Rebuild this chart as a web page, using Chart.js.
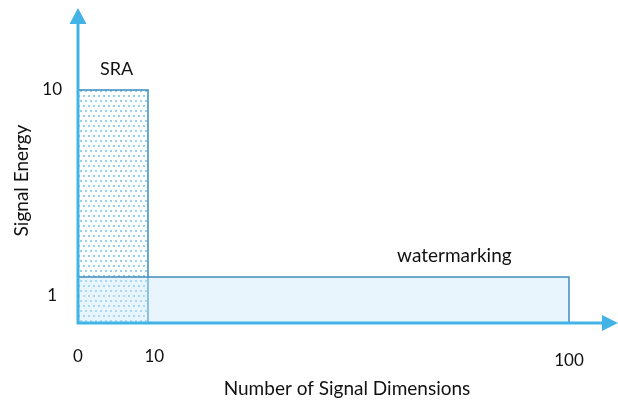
<!DOCTYPE html>
<html><head><meta charset="utf-8">
<script src="https://cdn.jsdelivr.net/npm/chart.js@4/dist/chart.umd.min.js"></script>
<style>html,body{margin:0;padding:0;background:#fff;}canvas{display:block;}</style>
</head><body>
<canvas id="c" width="618" height="400"></canvas>
<script>
// ---- data ----
const xTickValues = [0, 10, 100];
const xTickLabels = ['0', '10', '100'];
const yTickValues = [1, 10];
const yTickLabels = ['1', '10'];
const seriesNames = ['SRA', 'watermarking'];
const sraDims = [0, 10];      // number of signal dimensions range
const sraEnergy = [0, 10];    // signal energy range
const wmDims = [0, 100];
const wmEnergy = [0, 1];
const xTitle = 'Number of Signal Dimensions';
const yTitle = 'Signal Energy';

// ---- styles ----
const FONT = 'Lato';
const AXIS_COLOR = '#41B3E6';
const TEXT_COLOR = '#111111';

// piecewise (schematic, not-to-scale) linear scale
class PiecewiseScale extends Chart.LinearScale {
  _toDec(v) {
    const s = this.options.stops;
    let i = 1;
    while (i < s.length - 1 && v > s[i][0]) i++;
    const [v0, d0] = s[i - 1], [v1, d1] = s[i];
    return d0 + (v - v0) * (d1 - d0) / (v1 - v0);
  }
  getPixelForValue(value) {
    if (value === null || value === undefined || isNaN(value)) return NaN;
    return this.getPixelForDecimal(this._toDec(+value));
  }
  getValueForPixel(pixel) {
    const d = this.getDecimalForPixel(pixel);
    const s = this.options.stops;
    let i = 1;
    while (i < s.length - 1 && d > s[i][1]) i++;
    const [v0, d0] = s[i - 1], [v1, d1] = s[i];
    return v0 + (d - d0) * (v1 - v0) / (d1 - d0);
  }
}
PiecewiseScale.id = 'piecewise';
PiecewiseScale.defaults = Chart.LinearScale.defaults;
Chart.register(PiecewiseScale);

function rect(xr, yr) {
  return [
    {x: xr[0], y: yr[0]}, {x: xr[0], y: yr[1]}, {x: xr[1], y: yr[1]},
    {x: xr[1], y: yr[0]}, {x: xr[0], y: yr[0]}
  ];
}

function dotPattern() {
  const c = document.createElement('canvas');
  c.width = 10; c.height = 10;
  const g = c.getContext('2d');
  g.fillStyle = '#ffffff';
  g.fillRect(0, 0, 10, 10);
  g.fillStyle = '#96D1F1';
  [[0, 0], [5, 0], [3, 5], [8, 5]].forEach(([x, y]) => g.fillRect(x, y, 2, 2));
  return document.getElementById('c').getContext('2d').createPattern(c, 'repeat');
}

const axesPlugin = {
  id: 'axesArrows',
  afterDatasetsDraw(chart) {
    const {ctx, scales: {x, y}} = chart;
    const x0 = x.getPixelForValue(0), y0 = y.getPixelForValue(0);
    const topTip = 8, rightTip = chart.width;
    ctx.save();
    ctx.strokeStyle = AXIS_COLOR; ctx.fillStyle = AXIS_COLOR;
    ctx.lineWidth = 3; ctx.lineCap = 'butt';
    ctx.beginPath();
    ctx.moveTo(x0, y0 + 1.5); ctx.lineTo(x0, topTip + 14);
    ctx.moveTo(x0 - 1.5, y0); ctx.lineTo(rightTip - 14, y0);
    ctx.stroke();
    ctx.beginPath();
    ctx.moveTo(x0, topTip); ctx.lineTo(x0 - 8.5, topTip + 16); ctx.lineTo(x0 + 8.5, topTip + 16); ctx.closePath();
    ctx.moveTo(rightTip, y0); ctx.lineTo(rightTip - 16, y0 - 8); ctx.lineTo(rightTip - 16, y0 + 8); ctx.closePath();
    ctx.fill();
    // series labels
    ctx.fillStyle = TEXT_COLOR;
    ctx.textAlign = 'center'; ctx.textBaseline = 'alphabetic';
    ctx.font = '18px ' + FONT;
    ctx.fillText(seriesNames[0], x.getPixelForValue(5.5), y.getPixelForValue(sraEnergy[1]) - 15);
    ctx.font = '19px ' + FONT;
    ctx.fillText(seriesNames[1], x.getPixelForValue(75.5), y.getPixelForValue(wmEnergy[1]) - 15);
    ctx.restore();
  }
};

new Chart(document.getElementById('c'), {
  type: 'scatter',
  data: {
    datasets: [
      {
        label: seriesNames[0], data: rect(sraDims, sraEnergy), showLine: true,
        fill: 'shape', backgroundColor: dotPattern(), borderColor: '#3A8CBD',
        borderWidth: 1.5, pointRadius: 0, tension: 0, clip: false, order: 2
      },
      {
        label: seriesNames[1], data: rect(wmDims, wmEnergy), showLine: true,
        fill: 'shape', backgroundColor: 'rgba(200,230,248,0.4)', borderColor: '#3F8DBB',
        borderWidth: 1.5, pointRadius: 0, tension: 0, clip: false, order: 1
      }
    ]
  },
  options: {
    responsive: false, animation: false, devicePixelRatio: 1,
    layout: {padding: {top: 38, right: 2, left: 0, bottom: 0}},
    plugins: {legend: {display: false}, tooltip: {enabled: false}},
    scales: {
      x: {
        type: 'piecewise', min: 0, max: 110,
        stops: [[0, 0], [10, 0.1301], [100, 0.9126]],
        grid: {display: false, drawTicks: false, tickLength: 0},
        border: {display: false},
        afterBuildTicks: s => { s.ticks = xTickValues.map(v => ({value: v})); },
        afterFit: s => { s.height = 77; },
        ticks: {
          autoSkip: false, maxRotation: 0, padding: 23, color: TEXT_COLOR,
          font: ctx => ({family: FONT, size: 17, lineHeight: ctx.index === 2 ? '30px' : '20.4px'}),
          callback: (v, i) => i === 1 ? '\u2002\u2009\u2009' + xTickLabels[i] : xTickLabels[i]
        },
        title: {display: true, text: xTitle, color: TEXT_COLOR, padding: {top: 2, bottom: 0},
                font: {family: FONT, size: 19}}
      },
      y: {
        type: 'piecewise', min: 0, max: 11,
        stops: [[0, 0], [1, 0.1614], [10, 0.8175]],
        grid: {display: false, drawTicks: false, tickLength: 0},
        border: {display: false},
        afterBuildTicks: s => { s.ticks = yTickValues.map(v => ({value: v})); },
        afterFit: s => { s.width = 78; },
        ticks: {
          autoSkip: false, padding: 16, crossAlign: 'center', color: TEXT_COLOR,
          font: ctx => ({family: FONT, size: 17, lineHeight: ctx.index === 0 ? '38px' : '20.4px'}),
          callback: (v, i) => i === 0 ? ['', yTickLabels[i]] : yTickLabels[i]
        },
        title: {display: true, text: yTitle, color: TEXT_COLOR, padding: {top: 10, bottom: 0},
                font: {family: FONT, size: 19}}
      }
    }
  },
  plugins: [axesPlugin]
});
</script>
</body></html>
